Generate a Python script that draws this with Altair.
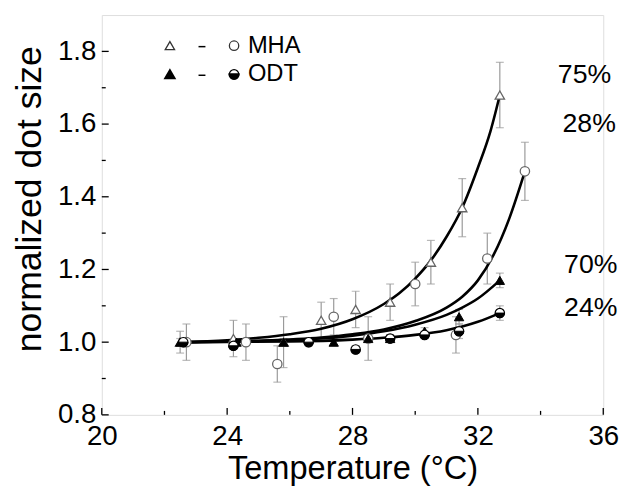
import altair as alt
import pandas as pd

# ---------------- data ----------------
# MHA 75% (open triangles)
t_mha75 = [22.5, 24.2, 25.8, 27.0, 28.1, 29.2, 30.5, 31.5, 32.7]
v_mha75 = [1.00, 1.01, 1.00, 1.06, 1.09, 1.11, 1.22, 1.37, 1.68]
e_mha75 = [0.03, 0.05, 0.07, 0.05, 0.05, 0.05, 0.06, 0.08, 0.09]
# MHA 28% (open circles)
t_mha28 = [22.7, 24.6, 25.6, 27.4, 28.5, 30.0, 31.3, 32.3, 33.5]
v_mha28 = [1.00, 1.00, 0.94, 1.07, 1.01, 1.16, 1.02, 1.23, 1.47]
e_mha28 = [0.05, 0.05, 0.05, 0.05, 0.06, 0.06, 0.05, 0.07, 0.08]
# ODT 70% (filled triangles)
t_odt70 = [22.5, 24.3, 25.8, 27.4, 28.5, 29.2, 30.3, 31.4, 32.7]
v_odt70 = [1.00, 1.00, 1.00, 1.00, 1.01, 1.01, 1.03, 1.07, 1.17]
e_odt70 = [0.01, 0.01, 0.01, 0.01, 0.01, 0.01, 0.01, 0.02, 0.02]
# ODT 24% (half-filled circles)
t_odt24 = [22.6, 24.2, 26.6, 28.1, 29.2, 30.3, 31.4, 32.7]
v_odt24 = [1.00, 0.99, 1.00, 0.98, 1.01, 1.02, 1.03, 1.08]
e_odt24 = [0.01, 0.01, 0.01, 0.01, 0.01, 0.01, 0.02, 0.02]

# fitted curves
ct_75 = [22.5, 24, 25, 26, 27, 28, 29, 29.5, 30, 30.5, 31, 31.5, 32, 32.4, 32.7]
cv_75 = [1.0, 1.005, 1.012, 1.022, 1.037, 1.063, 1.105, 1.135, 1.175, 1.225, 1.29, 1.37, 1.48, 1.58, 1.68]
ct_28 = [22.5, 25, 27, 28, 29, 30, 31, 31.5, 32, 32.5, 33, 33.5]
cv_28 = [1.0, 1.004, 1.013, 1.022, 1.035, 1.058, 1.095, 1.125, 1.17, 1.24, 1.34, 1.47]
ct_70 = [22.5, 25, 27, 28, 29, 30, 31, 31.5, 32, 32.7]
cv_70 = [1.0, 1.003, 1.01, 1.018, 1.03, 1.048, 1.075, 1.095, 1.12, 1.17]
ct_24 = [22.5, 26, 28, 29, 30, 31, 31.5, 32, 32.7]
cv_24 = [1.0, 1.002, 1.007, 1.012, 1.02, 1.033, 1.043, 1.056, 1.08]

curve_labels = ["75%", "28%", "70%", "24%"]
label_t = [34.55, 34.7, 34.75, 34.75]
label_v = [1.735, 1.60, 1.213, 1.095]

x_major = [20, 24, 28, 32, 36]
x_minor = [22, 26, 30, 34]
y_major = [0.8, 1.0, 1.2, 1.4, 1.6, 1.8]
y_minor = [0.9, 1.1, 1.3, 1.5, 1.7]

W, H = 508, 405
FONT = "Liberation Sans"

def pts(t, v, e, name):
    return pd.DataFrame({"T": t, "V": v, "lo": [a - b for a, b in zip(v, e)],
                         "hi": [a + b for a, b in zip(v, e)], "series": name})

pts_all = pd.concat([
    pts(t_mha75, v_mha75, e_mha75, "MHA75"),
    pts(t_mha28, v_mha28, e_mha28, "MHA28"),
    pts(t_odt70, v_odt70, e_odt70, "ODT70"),
    pts(t_odt24, v_odt24, e_odt24, "ODT24"),
], ignore_index=True)

curves = pd.concat([
    pd.DataFrame({"T": ct_75, "V": cv_75, "series": "75"}),
    pd.DataFrame({"T": ct_28, "V": cv_28, "series": "28"}),
    pd.DataFrame({"T": ct_70, "V": cv_70, "series": "70"}),
    pd.DataFrame({"T": ct_24, "V": cv_24, "series": "24"}),
], ignore_index=True)

labels = pd.DataFrame({"T": label_t, "V": label_v, "text": curve_labels})

xs = alt.Scale(domain=[20, 36], nice=False, zero=False)
ys = alt.Scale(domain=[0.8, 1.9], nice=False, zero=False)

X = alt.X("T:Q", scale=xs, axis=alt.Axis(
    values=x_major, tickSize=0, domain=False, grid=False, labelFontSize=28,
    labelPadding=8, labelFont=FONT, labelColor="black", labelFlush=False,
    title="Temperature (°C)",
    titleFont=FONT, titleFontSize=33, titleFontWeight="normal", titleColor="black",
    titlePadding=2))
Y = alt.Y("V:Q", scale=ys, axis=alt.Axis(
    values=y_major, format=".1f", tickSize=0, domain=False, grid=False,
    labelFontSize=28, labelPadding=6, labelFont=FONT, labelColor="black",
    labelFlush=False,
    title="normalized dot size", titleFont=FONT, titleFontSize=36,
    titleFontWeight="normal", titleColor="black", titleX=-73, titleY=186,
    titleBaseline="middle"))

base = alt.Chart(pts_all)

err = base.mark_rule(color="#9a9a9a", strokeWidth=1.2).encode(
    x=alt.X("T:Q", scale=xs), y=alt.Y("lo:Q", scale=ys), y2="hi:Q")
cap_lo = base.mark_tick(color="#9a9a9a", orient="horizontal", size=8, thickness=1.2).encode(
    x=alt.X("T:Q", scale=xs), y=alt.Y("lo:Q", scale=ys))
cap_hi = base.mark_tick(color="#9a9a9a", orient="horizontal", size=8, thickness=1.2).encode(
    x=alt.X("T:Q", scale=xs), y=alt.Y("hi:Q", scale=ys))

lines = alt.Chart(curves).mark_line(color="black", strokeWidth=2.6, interpolate="monotone").encode(
    x=X, y=Y, detail="series:N")

def sel(name):
    return base.transform_filter(alt.datum.series == name)

m75 = sel("MHA75").mark_point(shape="triangle-up", size=90, filled=True, fill="white",
                              stroke="#666", strokeWidth=1.3, opacity=1).encode(
    x=alt.X("T:Q", scale=xs), y=alt.Y("V:Q", scale=ys))
m28 = sel("MHA28").mark_point(shape="circle", size=90, filled=True, fill="white",
                              stroke="#666", strokeWidth=1.3, opacity=1).encode(
    x=alt.X("T:Q", scale=xs), y=alt.Y("V:Q", scale=ys))
m70 = sel("ODT70").mark_point(shape="triangle-up", size=90, filled=True, fill="black",
                              stroke="black", strokeWidth=1, opacity=1).encode(
    x=alt.X("T:Q", scale=xs), y=alt.Y("V:Q", scale=ys))
m24a = sel("ODT24").mark_point(shape="circle", size=90, filled=True, fill="white",
                               stroke="black", strokeWidth=1.2, opacity=1).encode(
    x=alt.X("T:Q", scale=xs), y=alt.Y("V:Q", scale=ys))
HALF = "M -1 0 A 1 1 0 0 0 1 0 Z"
m24b = sel("ODT24").mark_point(shape=HALF, size=90, filled=True, fill="black",
                               stroke="black", strokeWidth=1, opacity=1).encode(
    x=alt.X("T:Q", scale=xs), y=alt.Y("V:Q", scale=ys))

txt = alt.Chart(labels).mark_text(align="left", baseline="middle", fontSize=27,
                                  font=FONT, color="black").encode(
    x=alt.X("T:Q", scale=xs), y=alt.Y("V:Q", scale=ys), text="text:N")

# axis ticks pointing inward
xt_major = alt.Chart(pd.DataFrame({"T": x_major})).mark_rule(color="black", strokeWidth=1.3).encode(
    x=alt.X("T:Q", scale=xs), y=alt.value(H), y2=alt.value(H - 7))
xt_minor = alt.Chart(pd.DataFrame({"T": x_minor})).mark_rule(color="black", strokeWidth=1.3).encode(
    x=alt.X("T:Q", scale=xs), y=alt.value(H), y2=alt.value(H - 4))
yt_major = alt.Chart(pd.DataFrame({"V": y_major})).mark_rule(color="black", strokeWidth=1.3).encode(
    y=alt.Y("V:Q", scale=ys), x=alt.value(0), x2=alt.value(7))
yt_minor = alt.Chart(pd.DataFrame({"V": y_minor})).mark_rule(color="black", strokeWidth=1.3).encode(
    y=alt.Y("V:Q", scale=ys), x=alt.value(0), x2=alt.value(4))

# in-plot legend
leg_open_tri = alt.Chart(pd.DataFrame({"a": [0]})).mark_point(
    shape="triangle-up", size=90, filled=True, fill="white", stroke="#333", strokeWidth=1.3, opacity=1).encode(
    x=alt.value(69), y=alt.value(31))
leg_open_cir = alt.Chart(pd.DataFrame({"a": [0]})).mark_point(
    shape="circle", size=90, filled=True, fill="white", stroke="#333", strokeWidth=1.3, opacity=1).encode(
    x=alt.value(134), y=alt.value(31))
leg_fill_tri = alt.Chart(pd.DataFrame({"a": [0]})).mark_point(
    shape="triangle-up", size=90, filled=True, fill="black", stroke="black", opacity=1).encode(
    x=alt.value(69), y=alt.value(60))
leg_half_a = alt.Chart(pd.DataFrame({"a": [0]})).mark_point(
    shape="circle", size=90, filled=True, fill="white", stroke="black", strokeWidth=1.2, opacity=1).encode(
    x=alt.value(134), y=alt.value(60))
leg_half_b = alt.Chart(pd.DataFrame({"a": [0]})).mark_point(
    shape=HALF, size=90, filled=True, fill="black", stroke="black", opacity=1).encode(
    x=alt.value(134), y=alt.value(60))
leg_dash1 = alt.Chart(pd.DataFrame({"a": [0]})).mark_rule(color="black", strokeWidth=1.5).encode(
    x=alt.value(98), x2=alt.value(105), y=alt.value(32))
leg_dash2 = alt.Chart(pd.DataFrame({"a": [0]})).mark_rule(color="black", strokeWidth=1.5).encode(
    x=alt.value(98), x2=alt.value(105), y=alt.value(61))
leg_txt = alt.Chart(pd.DataFrame({"text": ["MHA", "ODT"], "y": [31, 60]})).mark_text(
    align="left", baseline="middle", fontSize=24, font=FONT, color="black").encode(
    x=alt.value(148), y=alt.Y("y:Q", scale=None), text="text:N")

chart = alt.layer(
    err, cap_lo, cap_hi, lines, m75, m28, m70, m24a, m24b, txt,
    xt_major, xt_minor, yt_major, yt_minor,
    leg_open_tri, leg_open_cir, leg_fill_tri, leg_half_a, leg_half_b,
    leg_dash1, leg_dash2, leg_txt,
).properties(
    width=W, height=H,
    autosize=alt.AutoSizeParams(type="none"),
    padding={"left": 95, "top": 4, "right": 20, "bottom": 75},
).configure_view(stroke="black", strokeWidth=1.5).configure(background="white")

chart.save("out.html", embed_options={"renderer": "svg", "actions": False})
